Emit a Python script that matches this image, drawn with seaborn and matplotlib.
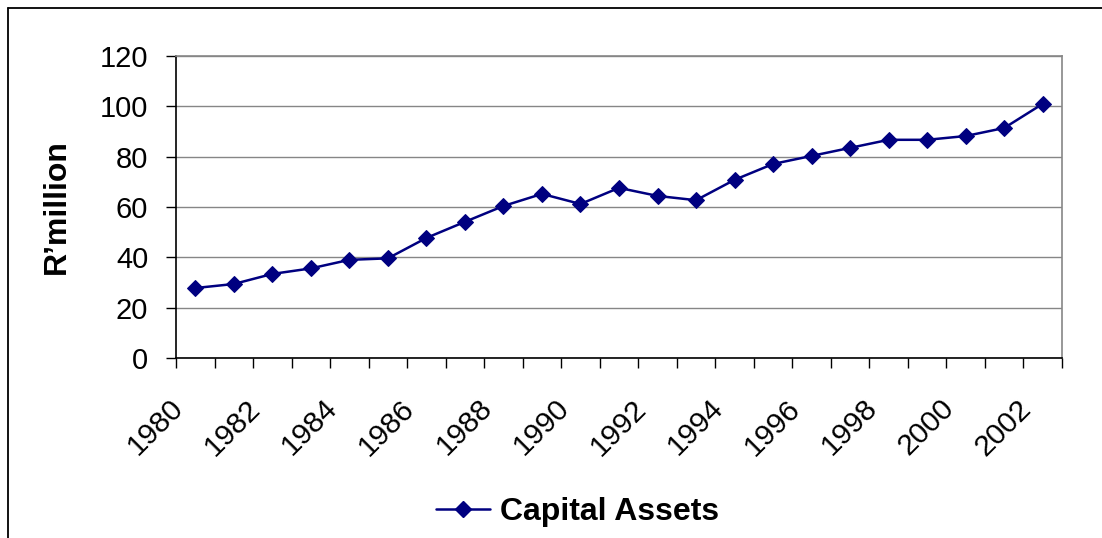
import numpy as np
import pandas as pd
import matplotlib
matplotlib.use("Agg")
import matplotlib.pyplot as plt
import matplotlib.transforms as mtransforms
from matplotlib.lines import Line2D
import seaborn as sns

# --------------------------------------------------
# Data
# --------------------------------------------------
years = [1980, 1981, 1982, 1983, 1984, 1985, 1986, 1987, 1988, 1989, 1990, 1991,
         1992, 1993, 1994, 1995, 1996, 1997, 1998, 1999, 2000, 2001, 2002]
capital_assets = [27.8, 29.4, 33.4, 35.6, 39.0, 39.6, 47.7, 54.1, 60.4, 65.2, 61.2, 67.6,
                  64.4, 62.7, 70.8, 77.1, 80.3, 83.5, 86.7, 86.7, 88.2, 91.4, 101.0]
y_ticks = [0, 20, 40, 60, 80, 100, 120]
series_name = "Capital Assets"
y_label = "R\u2019million"

df = pd.DataFrame({"pos": np.arange(len(years)), "year": years, "value": capital_assets})

# --------------------------------------------------
# Plot
# --------------------------------------------------
sns.set_style("white")
plt.rcParams["font.family"] = ["Liberation Sans", "DejaVu Sans"]
plt.rcParams["text.color"] = "black"
plt.rcParams["xtick.color"] = "black"
plt.rcParams["ytick.color"] = "black"
plt.rcParams["axes.labelcolor"] = "black"

fig = plt.figure(figsize=(11.02, 5.38), dpi=100)
ax = fig.add_axes([176 / 1102, 1 - 358 / 538, (1062 - 176) / 1102, (358 - 56) / 538])

sns.lineplot(data=df, x="pos", y="value", ax=ax, color="#000080", linewidth=1.8,
             marker="D", markersize=8.5, markeredgecolor="#000080", label=series_name,
             legend=False)

ax.set_xlim(-0.5, len(years) - 0.5)
ax.set_ylim(0, 120)
ax.set_yticks(y_ticks)
ax.yaxis.grid(True, color="#868686", linewidth=1.0)
ax.set_axisbelow(True)

# category boundaries get tick marks, labels every second year
ax.set_xticks(np.arange(len(years) + 1) - 0.5)
ax.set_xticklabels([])
ax.tick_params(axis="x", direction="out", length=7, width=1, color="black", bottom=True)
ax.tick_params(axis="y", direction="out", length=7, width=1, color="black", left=True,
               labelsize=21, labelcolor="black", pad=13)

offset = mtransforms.ScaledTranslation(-16 / 100, -46 / 100, fig.dpi_scale_trans)
for i, yr in enumerate(years):
    if i % 2 == 0:
        ax.text(i, 0, str(yr), transform=ax.get_xaxis_transform() + offset,
                rotation=45, rotation_mode="anchor", ha="right", va="center",
                fontsize=21.5, color="black")

ax.set_xlabel("")
ax.set_ylabel(y_label, fontsize=23, fontweight="bold", labelpad=20, color="black")

for side in ["left", "bottom"]:
    ax.spines[side].set_color("black")
    ax.spines[side].set_linewidth(1.2)
for side in ["top", "right"]:
    ax.spines[side].set_color("#868686")
    ax.spines[side].set_linewidth(1.2)

# legend under the chart
handle = Line2D([], [], color="#000080", linewidth=1.8, marker="D", markersize=8.5)
leg = fig.legend([handle], [series_name], loc="center", bbox_to_anchor=(0.524, 0.048),
                 frameon=False, prop={"size": 23, "weight": "bold"},
                 handlelength=1.7, handletextpad=0.3)
for t in leg.get_texts():
    t.set_color("black")

# chart area border (top and left only are visible)
fig.add_artist(Line2D([8 / 1102, 1], [1 - 8 / 538, 1 - 8 / 538], color="black", linewidth=1.3,
                      transform=fig.transFigure))
fig.add_artist(Line2D([8 / 1102, 8 / 1102], [0, 1 - 8 / 538], color="black", linewidth=1.3,
                      transform=fig.transFigure))

plt.savefig("out.png", dpi=100)
